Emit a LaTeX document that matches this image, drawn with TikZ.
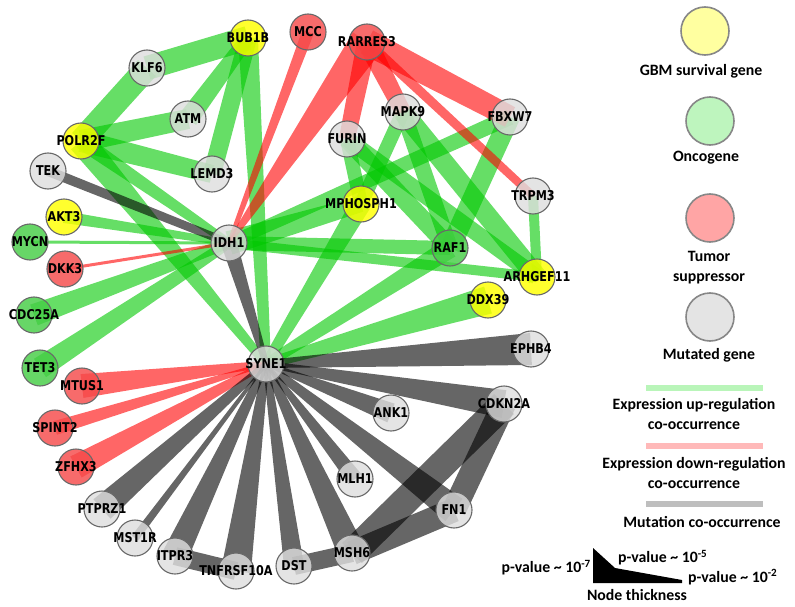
\documentclass[tikz,border=0pt]{standalone}
\usepackage{fontspec}
\setmainfont{DejaVu Sans}
\newfontfamily\legfont{Carlito}
\newfontfamily\nodefont[FakeStretch=0.83]{DejaVu Sans}
\usetikzlibrary{calc}
\pgfdeclarelayer{bg}
\pgfsetlayers{bg,main}
\definecolor{eg}{RGB}{0,200,0}
\definecolor{er}{RGB}{255,0,0}
\definecolor{ek}{RGB}{0,0,0}
\definecolor{nbord}{RGB}{105,105,105}
\definecolor{ngray}{RGB}{222,222,222}
\definecolor{nyel}{RGB}{255,255,0}
\definecolor{nred}{RGB}{245,75,75}
\definecolor{ngreen}{RGB}{70,205,70}
\definecolor{lyel}{RGB}{255,255,160}
\definecolor{lgreen}{RGB}{190,245,190}
\definecolor{lred}{RGB}{255,165,165}
\definecolor{lgray}{RGB}{228,228,228}
\definecolor{lgline}{RGB}{185,245,185}
\definecolor{lrline}{RGB}{255,185,185}
\definecolor{lkline}{RGB}{190,190,190}
\newcommand\band[5]{\fill[#1] ($(#2.center)!#4!90:(#3.center)$) -- ($(#3.center)!#5!-90:(#2.center)$) -- ($(#3.center)!#5!90:(#2.center)$) -- ($(#2.center)!#4!-90:(#3.center)$) -- cycle;}
\begin{document}
\begin{tikzpicture}[x=1pt,y=-1pt,
  gnode/.style={circle, draw=nbord, line width=1.1pt, minimum size=36pt, inner sep=0pt, fill opacity=0.82},
  mut/.style={gnode, fill=ngray},
  surv/.style={gnode, fill=nyel},
  onco/.style={gnode, fill=ngreen},
  supp/.style={gnode, fill=nred},
  lab/.style={font=\nodefont\fontsize{13.5}{15}\selectfont\bfseries, text=black, text opacity=1, fill opacity=1, inner sep=0pt},
  upedge/.style={fill=eg, fill opacity=0.6},
  downedge/.style={fill=er, fill opacity=0.6},
  mutedge/.style={fill=ek, fill opacity=0.6},
  legcirc/.style={circle, draw=nbord!80, line width=1.6pt, minimum size=48pt, inner sep=0pt},
  legtext/.style={font=\legfont\bfseries\fontsize{15.8}{18}\selectfont, text=black, inner sep=0pt, align=center},
  legline/.style={line width=5.5pt}
]
\useasboundingbox (0,0) rectangle (795,607);
% nodes
\node[surv, label={[lab]center:BUB1B}] (BUB1B) at (248,38) {};
\node[supp, label={[lab]center:MCC}] (MCC) at (308,32) {};
\node[supp, label={[lab]center:RARRES3}] (RARRES3) at (367,42) {};
\node[mut, label={[lab]center:KLF6}] (KLF6) at (147,68) {};
\node[mut, label={[lab]center:ATM}] (ATM) at (188,119) {};
\node[surv, label={[lab]center:POLR2F}] (POLR2F) at (81,141) {};
\node[mut, label={[lab]center:TEK}] (TEK) at (48,171) {};
\node[mut, label={[lab]center:LEMD3}] (LEMD3) at (212,174) {};
\node[mut, label={[lab]center:MAPK9}] (MAPK9) at (403,112) {};
\node[mut, label={[lab]center:FBXW7}] (FBXW7) at (510,117) {};
\node[mut, label={[lab]center:FURIN}] (FURIN) at (347,139) {};
\node[mut, label={[lab]center:TRPM3}] (TRPM3) at (533,196) {};
\node[surv, label={[lab]center:MPHOSPH1}] (MPHOSPH1) at (361,204) {};
\node[surv, label={[lab]center:AKT3}] (AKT3) at (64,217) {};
\node[mut, label={[lab]center:IDH1}] (IDH1) at (229,243) {};
\node[onco, label={[lab]center:MYCN}] (MYCN) at (30,242) {};
\node[onco, label={[lab]center:RAF1}] (RAF1) at (450,248) {};
\node[supp, label={[lab]center:DKK3}] (DKK3) at (65,269) {};
\node[surv, label={[lab]center:ARHGEF11}] (ARHGEF11) at (537,277) {};
\node[onco, label={[lab]center:CDC25A}] (CDC25A) at (34,315) {};
\node[surv, label={[lab]center:DDX39}] (DDX39) at (488,300) {};
\node[mut, label={[lab]center:SYNE1}] (SYNE1) at (266,364) {};
\node[mut, label={[lab]center:EPHB4}] (EPHB4) at (531,349) {};
\node[onco, label={[lab]center:TET3}] (TET3) at (40,368) {};
\node[supp, label={[lab]center:MTUS1}] (MTUS1) at (82,386) {};
\node[mut, label={[lab]center:CDKN2A}] (CDKN2A) at (504,404) {};
\node[mut, label={[lab]center:ANK1}] (ANK1) at (391,413) {};
\node[supp, label={[lab]center:SPINT2}] (SPINT2) at (55,428) {};
\node[supp, label={[lab]center:ZFHX3}] (ZFHX3) at (76,467) {};
\node[mut, label={[lab]center:MLH1}] (MLH1) at (355,479) {};
\node[mut, label={[lab]center:FN1}] (FN1) at (454,510) {};
\node[mut, label={[lab]center:PTPRZ1}] (PTPRZ1) at (102,509) {};
\node[mut, label={[lab]center:MST1R}] (MST1R) at (135,538) {};
\node[mut, label={[lab]center:ITPR3}] (ITPR3) at (175,556) {};
\node[mut, label={[lab]center:TNFRSF10A}] (TNFRSF10A) at (236,571) {};
\node[mut, label={[lab]center:DST}] (DST) at (294,566) {};
\node[mut, label={[lab]center:MSH6}] (MSH6) at (352,553) {};
% edges
\begin{pgfonlayer}{bg}
\band{upedge}{BUB1B}{KLF6}{12pt}{12pt}
\band{upedge}{KLF6}{POLR2F}{12pt}{12pt}
\band{upedge}{BUB1B}{ATM}{7pt}{10pt}
\band{upedge}{POLR2F}{ATM}{11pt}{10pt}
\band{upedge}{POLR2F}{LEMD3}{11pt}{9pt}
\band{upedge}{BUB1B}{LEMD3}{9pt}{9pt}
\band{upedge}{BUB1B}{SYNE1}{10pt}{5pt}
\band{upedge}{POLR2F}{SYNE1}{13pt}{4pt}
\band{upedge}{POLR2F}{IDH1}{8pt}{4pt}
\band{upedge}{AKT3}{IDH1}{6pt}{3pt}
\band{upedge}{MYCN}{IDH1}{1.5pt}{1.5pt}
\band{upedge}{CDC25A}{IDH1}{11pt}{5pt}
\band{upedge}{TET3}{IDH1}{11pt}{5pt}
\band{upedge}{IDH1}{RAF1}{7pt}{7pt}
\band{upedge}{IDH1}{ARHGEF11}{5pt}{5pt}
\band{upedge}{IDH1}{MPHOSPH1}{12pt}{8pt}
\band{upedge}{IDH1}{FBXW7}{6pt}{8pt}
\band{upedge}{FURIN}{MPHOSPH1}{7pt}{7pt}
\band{upedge}{FURIN}{RAF1}{9pt}{9pt}
\band{upedge}{FURIN}{ARHGEF11}{8pt}{8pt}
\band{upedge}{MAPK9}{MPHOSPH1}{7pt}{7pt}
\band{upedge}{MAPK9}{RAF1}{8pt}{8pt}
\band{upedge}{MAPK9}{ARHGEF11}{10pt}{10pt}
\band{upedge}{FBXW7}{RAF1}{10pt}{10pt}
\band{upedge}{TRPM3}{ARHGEF11}{5pt}{5pt}
\band{upedge}{MPHOSPH1}{SYNE1}{10pt}{5pt}
\band{upedge}{RAF1}{SYNE1}{10pt}{5pt}
\band{upedge}{DDX39}{SYNE1}{14pt}{5pt}
\band{downedge}{MCC}{IDH1}{6pt}{2pt}
\band{downedge}{RARRES3}{IDH1}{17pt}{2pt}
\band{downedge}{RARRES3}{FURIN}{10pt}{8pt}
\band{downedge}{RARRES3}{MAPK9}{10pt}{8pt}
\band{downedge}{RARRES3}{FBXW7}{13pt}{11pt}
\band{downedge}{RARRES3}{TRPM3}{5pt}{4pt}
\band{downedge}{DKK3}{IDH1}{1.5pt}{1.5pt}
\band{downedge}{MTUS1}{SYNE1}{12pt}{3pt}
\band{downedge}{SPINT2}{SYNE1}{7pt}{2pt}
\band{downedge}{ZFHX3}{SYNE1}{12pt}{3pt}
\band{mutedge}{TEK}{IDH1}{5pt}{4pt}
\band{mutedge}{IDH1}{SYNE1}{8pt}{3pt}
\band{mutedge}{EPHB4}{SYNE1}{16pt}{4pt}
\band{mutedge}{CDKN2A}{SYNE1}{14pt}{3pt}
\band{mutedge}{ANK1}{SYNE1}{10pt}{2pt}
\band{mutedge}{FN1}{SYNE1}{14pt}{3pt}
\band{mutedge}{MLH1}{SYNE1}{8pt}{2pt}
\band{mutedge}{MSH6}{SYNE1}{14pt}{3pt}
\band{mutedge}{DST}{SYNE1}{10pt}{3pt}
\band{mutedge}{TNFRSF10A}{SYNE1}{15pt}{3pt}
\band{mutedge}{ITPR3}{SYNE1}{13pt}{3pt}
\band{mutedge}{MST1R}{SYNE1}{4pt}{1.5pt}
\band{mutedge}{PTPRZ1}{SYNE1}{13pt}{3pt}
\band{mutedge}{ITPR3}{TNFRSF10A}{9pt}{9pt}
\band{mutedge}{DST}{MSH6}{9pt}{9pt}
\band{mutedge}{MSH6}{CDKN2A}{14pt}{14pt}
\band{mutedge}{MSH6}{FN1}{12pt}{12pt}
\band{mutedge}{FN1}{CDKN2A}{12pt}{12pt}
\end{pgfonlayer}
% legend
\node[legcirc, fill=lyel] (lc1) at (705,31) {};
\node[legtext] (lt1) at (701,71) {GBM survival gene};
\node[legcirc, fill=lgreen] (lc2) at (710,121) {};
\node[legtext] (lt2) at (706,158) {Oncogene};
\node[legcirc, fill=lred] (lc3) at (710,218) {};
\node[legtext] (lt3) at (709,268) {Tumor\\[2pt]suppressor};
\node[legcirc, fill=lgray] (lc4) at (710,317) {};
\node[legtext] (lt4) at (709,355) {Mutated gene};
\coordinate (g1) at (646,388); \coordinate (g2) at (763,388);
\draw[legline, lgline] (g1) -- (g2);
\node[legtext] (lt5) at (694,414) {Expression up-regulation\\[2pt]co-occurrence};
\coordinate (r1) at (646,446); \coordinate (r2) at (763,446);
\draw[legline, lrline] (r1) -- (r2);
\node[legtext] (lt6) at (694,473) {Expression down-regulation\\[2pt]co-occurrence};
\coordinate (k1) at (646,504); \coordinate (k2) at (763,504);
\draw[legline, lkline] (k1) -- (k2);
\node[legtext] (lt7) at (702,522) {Mutation co-occurrence};
\fill[black] (593,548) -- (615,568) -- (682,580) -- (682,583) -- (593,583) -- cycle;
\node[legtext, anchor=east] (p7) at (591,568) {p-value \textasciitilde{} 10\textsuperscript{-7}};
\node[legtext, anchor=west] (p5) at (618,558) {p-value \textasciitilde{} 10\textsuperscript{-5}};
\node[legtext, anchor=west] (p2) at (688,577) {p-value \textasciitilde{} 10\textsuperscript{-2}};
\node[legtext] (nt) at (637,595) {Node thickness};
\end{tikzpicture}
\end{document}
